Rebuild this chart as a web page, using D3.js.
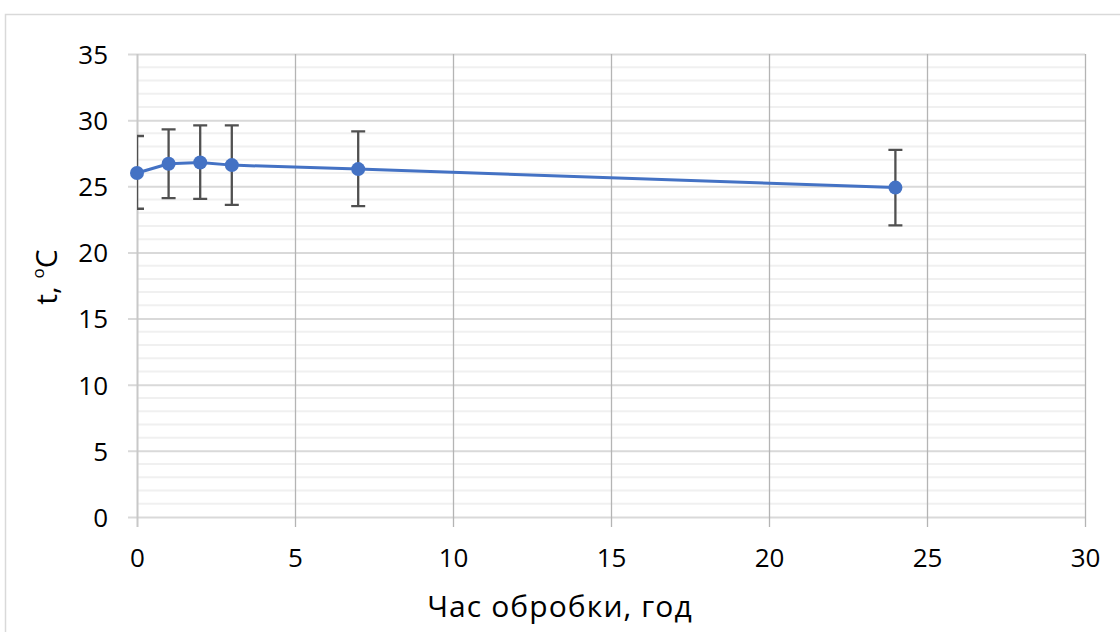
<!DOCTYPE html>
<html><head><meta charset="utf-8">
<script src="https://cdn.jsdelivr.net/npm/d3@7"></script>
<style>body{margin:0;background:#fff}svg{display:block}</style>
</head><body>
<script>
const hours = [0, 1, 2, 3, 7, 24];
const temps = [26.0, 26.7, 26.8, 26.6, 26.3, 24.9];
const errUp = [2.8, 2.6, 2.8, 3.0, 2.85, 2.85];
const errDown = [2.7, 2.6, 2.75, 3.0, 2.8, 2.85];
const xTicks = [0, 5, 10, 15, 20, 25, 30];
const yTicks = [0, 5, 10, 15, 20, 25, 30, 35];
const yMinor = d3.range(0, 36, 1);

const W = 1120, H = 632;
const svg = d3.select("body").append("svg").attr("width", W).attr("height", H);
const font = "'Open Sans', 'Liberation Sans', sans-serif";

svg.append("rect").attr("x", 5.5).attr("y", 14.5).attr("width", W + 10).attr("height", H + 10)
  .attr("fill", "#fff").attr("stroke", "#d9d9d9").attr("stroke-width", 1.5);

const x = d3.scaleLinear().domain([0, 30]).range([137, 1085]);
const y = d3.scaleLinear().domain([0, 35]).range([517, 54]);

// minor horizontal gridlines
svg.append("g").selectAll("line").data(yMinor.filter(v => v % 5 !== 0)).join("line")
  .attr("x1", x(0)).attr("x2", x(30)).attr("y1", d => y(d)).attr("y2", d => y(d))
  .attr("stroke", "#f0f0f0").attr("stroke-width", 2);

// major horizontal gridlines (with ticks extending left)
const yAxis = d3.axisLeft(y).tickValues(yTicks).tickSize(-(x(30) - x(0)) - 9).tickPadding(17).tickFormat(d3.format("d"));
const gy = svg.append("g").attr("transform", `translate(${x(30)},0)`).call(yAxis);
gy.select(".domain").remove();
gy.selectAll(".tick line").attr("stroke", "#d9d9d9").attr("stroke-width", 2).attr("transform", `translate(${-(x(30)-x(0))},0)`).attr("x1", -9).attr("x2", x(30) - x(0));
gy.selectAll(".tick text").attr("x", -(x(30) - x(0)) - 29).attr("dy", "0.36em")
  .attr("font-family", font).attr("font-size", 26).attr("fill", "#000");

// vertical gridlines
const xAxis = d3.axisBottom(x).tickValues(xTicks).tickSize(-(y(0) - y(35))).tickPadding(24);
const gx = svg.append("g").attr("transform", `translate(0,${y(0)})`).call(xAxis);
gx.select(".domain").remove();
gx.selectAll(".tick line").attr("stroke", "#b4b4b4").attr("stroke-width", 1.3).attr("y2", 10).attr("y1", -(y(0) - y(35)));
gx.selectAll(".tick line").filter(d => d === 0).attr("stroke", "#c8c8c8").attr("stroke-width", 2);
gx.selectAll(".tick text").attr("y", 50).attr("dy", 0)
  .attr("font-family", font).attr("font-size", 26).attr("fill", "#000");

// clip for error bars
svg.append("clipPath").attr("id", "pc").append("rect")
  .attr("x", x(0)).attr("y", y(35) - 5).attr("width", x(30) - x(0)).attr("height", y(0) - y(35) + 10);

const data = hours.map((h, i) => ({ h, t: temps[i], up: errUp[i], dn: errDown[i] }));

const eb = svg.append("g").attr("clip-path", "url(#pc)").attr("stroke", "#505050").attr("stroke-width", 2.3).attr("fill", "none");
eb.selectAll("path").data(data).join("path")
  .attr("d", d => {
    const cx = x(d.h), t = y(d.t + d.up), b = y(d.t - d.dn), c = 7;
    return `M${cx},${t}V${b}M${cx - c},${t}H${cx + c}M${cx - c},${b}H${cx + c}`;
  });

const line = d3.line().x(d => x(d.h)).y(d => y(d.t));
svg.append("path").datum(data).attr("d", line).attr("fill", "none")
  .attr("stroke", "#4472c4").attr("stroke-width", 3).attr("stroke-linejoin", "round");

svg.append("g").selectAll("circle").data(data).join("circle")
  .attr("cx", d => x(d.h)).attr("cy", d => y(d.t)).attr("r", 7).attr("fill", "#4472c4");

// axis titles
svg.append("text").attr("x", 560).attr("y", 617).attr("text-anchor", "middle")
  .attr("font-family", font).attr("font-size", 30).attr("letter-spacing", 1.1).attr("fill", "#000").text("Час обробки, год");

const yt = svg.append("text").attr("transform", `translate(57,277) rotate(-90)`).attr("text-anchor", "middle")
  .attr("font-family", font).attr("font-size", 30).attr("fill", "#000");
yt.append("tspan").text("t, ");
yt.append("tspan").attr("font-size", 17).attr("dy", -13).text("o");
yt.append("tspan").attr("dy", 13).text("C");
</script>
</body></html>
